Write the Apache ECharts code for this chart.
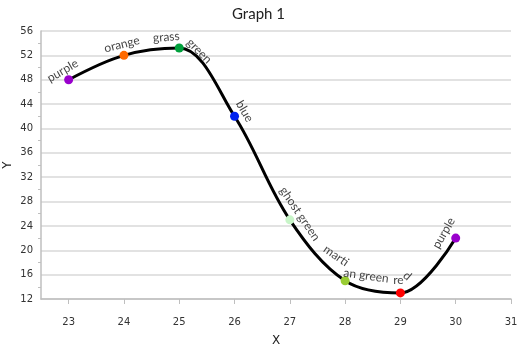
<!DOCTYPE html>
<html>
<head>
<meta charset="utf-8">
<script src="https://cdn.jsdelivr.net/npm/echarts@6/dist/echarts.min.js"></script>
<style>html,body{margin:0;padding:0;background:#fff}#c{width:531px;height:347px}</style>
</head>
<body>
<div id="c"></div>
<script>
const xValues = [23, 24, 25, 26, 27, 28, 29, 30];
const yValues = [48, 52, 53.2, 42, 25, 15, 13, 22];
const pointNames = ['purple', 'orange', 'grass green', 'blue', 'ghost green', 'martian green', 'red', 'purple'];
const pointColors = ['#9900cc', '#ff6a00', '#00a03c', '#0022ee', '#c8f5c8', '#99cc33', '#ff0000', '#9900cc'];
const xTicks = [23, 24, 25, 26, 27, 28, 29, 30, 31];
const yTicks = [12, 16, 20, 24, 28, 32, 36, 40, 44, 48, 52, 56];

// label pieces: index of point, text piece, rotation, screen offset of piece centre (styling only)
const labelPieces = [
  {i: 0, text: 'purple', rotate: 30, offset: [-6, -9]},
  {i: 1, text: 'orange', rotate: 14, offset: [-2, -11]},
  {i: 2, text: 'grass', rotate: 5, offset: [-13, -11]},
  {i: 2, text: 'green', rotate: -45, offset: [20, 3]},
  {i: 3, text: 'blue', rotate: -60, offset: [10, -5]},
  {i: 4, text: 'ghost green', rotate: -56, offset: [10, -6]},
  {i: 5, text: 'marti', rotate: -35, offset: [-9, -25]},
  {i: 5, text: 'an green', rotate: -8, offset: [21, -5]},
  {i: 6, text: 're', rotate: 0, offset: [-2, -13]},
  {i: 6, text: 'd', rotate: -40, offset: [7, -17]},
  {i: 7, text: 'purple', rotate: 60, offset: [-12, -5]}
];

function localOffset(d, deg) {
  const t = deg * Math.PI / 180, c = Math.cos(t), s = Math.sin(t);
  return [d[0] * c - d[1] * s, d[0] * s + d[1] * c];
}

const chart = echarts.init(document.getElementById('c'));
const lineData = xValues.map((x, k) => ({
  value: [x, yValues[k]],
  name: pointNames[k],
  itemStyle: {color: pointColors[k]}
}));
const labelData = labelPieces.map(p => ({
  value: [xValues[p.i], yValues[p.i]],
  label: {
    show: true, formatter: p.text, rotate: p.rotate, offset: localOffset(p.offset, p.rotate),
    position: 'inside', align: 'center', verticalAlign: 'middle'
  }
}));

chart.setOption({
  animation: false,
  title: {
    text: 'Graph 1', left: 227, top: 2,
    textStyle: {fontFamily: 'Lato', fontSize: 15, fontWeight: 'normal', color: '#222'}
  },
  grid: {left: 41, right: 20, top: 31, bottom: 48, outerBoundsMode: 'none', containLabel: false},
  xAxis: {
    type: 'value', min: 22.5, max: 31,
    name: 'X', nameLocation: 'middle', nameGap: 36, nameMoveOverlap: false,
    nameTextStyle: {fontFamily: 'DejaVu Sans', fontSize: 12, color: '#222'},
    axisLine: {show: true, lineStyle: {color: '#bfbfbf', width: 1.5}},
    axisTick: {show: true, customValues: xTicks, length: 5, lineStyle: {color: '#bfbfbf'}},
    axisLabel: {customValues: xTicks, margin: 18, fontFamily: 'DejaVu Sans', fontSize: 10, color: '#333'},
    splitLine: {show: false}
  },
  yAxis: {
    type: 'value', min: 12, max: 56, interval: 4,
    name: 'Y', nameLocation: 'middle', nameGap: 27, nameMoveOverlap: false,
    nameTextStyle: {fontFamily: 'DejaVu Sans', fontSize: 12, color: '#222'},
    axisLine: {show: true, lineStyle: {color: '#bfbfbf', width: 1.5}},
    axisTick: {show: false},
    minorTick: {show: true, splitNumber: 2, length: 3, lineStyle: {color: '#bfbfbf'}},
    axisLabel: {customValues: yTicks, margin: 8, fontFamily: 'DejaVu Sans', fontSize: 10, color: '#333'},
    splitLine: {show: true, lineStyle: {color: '#d9d9d9', width: 1.5}}
  },
  series: [
    {
      type: 'line', data: lineData, smooth: 0.35,
      symbol: 'circle', symbolSize: 9,
      lineStyle: {color: '#000', width: 3},
      z: 3
    },
    {
      type: 'scatter', data: labelData, symbolSize: 0, z: 4,
      label: {fontFamily: 'Lato', fontSize: 12, color: '#111'}
    }
  ]
});
</script>
</body>
</html>
